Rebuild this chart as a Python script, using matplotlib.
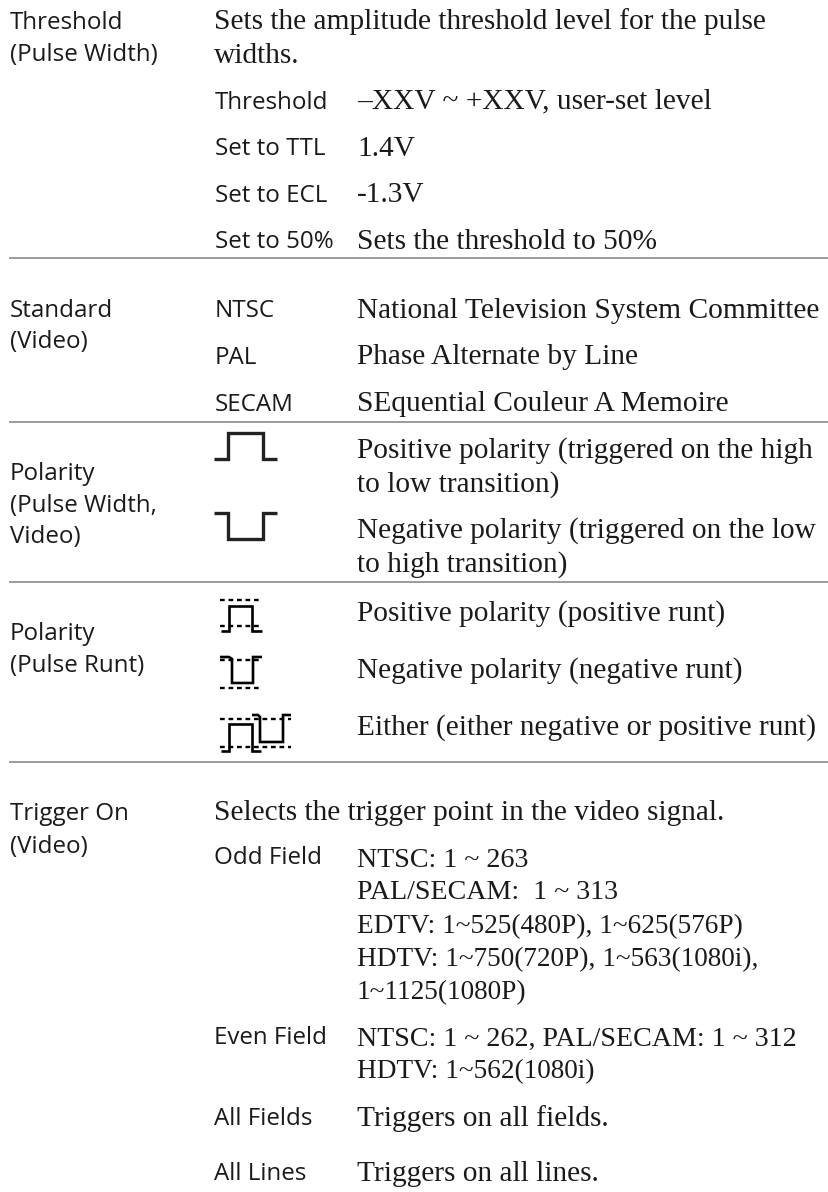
import matplotlib
matplotlib.use("Agg")
import matplotlib.pyplot as plt

W, H = 829, 1192
SANS = "Open Sans"
SERIF = "Liberation Serif"
INK = "#1a1a1a"
RULE = "#808080"

# x, baseline y, text
left_labels = [
    (10, 29, "Threshold"), (10, 61, "(Pulse Width)"),
    (10, 317, "Standard"), (10, 348, "(Video)"),
    (10, 480, "Polarity"), (10, 512, "(Pulse Width,"), (10, 543, "Video)"),
    (10, 640, "Polarity"), (10, 672, "(Pulse Runt)"),
    (10, 820, "Trigger On"), (10, 853, "(Video)"),
]

mid_labels = [
    (215, 109, "Threshold"), (215, 155, "Set to TTL"), (215, 202, "Set to ECL"), (215, 248, "Set to 50%"),
    (215, 317, "NTSC"), (215, 364, "PAL"), (215, 411, "SECAM"),
    (214, 864, "Odd Field"), (214, 1044, "Even Field"), (214, 1125, "All Fields"), (214, 1180, "All Lines"),
]

prose_lines = [
    (214, 29, "Sets the amplitude threshold level for the pulse"),
    (214, 63, "widths."),
    (357, 108, "\u2013XXV ~ +XXV, user-set level"),
    (357, 156, "1.4V"), (357, 202, "-1.3V"),
    (357, 249, "Sets the threshold to 50%"),
    (357, 318, "National Television System Committee"),
    (357, 364, "Phase Alternate by Line"),
    (357, 411, "SEquential Couleur A Memoire"),
    (357, 458, "Positive polarity (triggered on the high"),
    (357, 492, "to low transition)"),
    (357, 538, "Negative polarity (triggered on the low"),
    (357, 572, "to high transition)"),
    (357, 621, "Positive polarity (positive runt)"),
    (357, 678, "Negative polarity (negative runt)"),
    (357, 735, "Either (either negative or positive runt)"),
    (214, 820, "Selects the trigger point in the video signal."),
    (357, 1126, "Triggers on all fields."),
    (357, 1181, "Triggers on all lines."),
]

number_lines = [
    (357, 867, "NTSC: 1 ~ 263"),
    (357, 899, "PAL/SECAM:  1 ~ 313"),
    (357, 1046, "NTSC: 1 ~ 262, PAL/SECAM: 1 ~ 312"),
]

range_lines = [
    (357, 933, "EDTV: 1~525(480P), 1~625(576P)"),
    (357, 966, "HDTV: 1~750(720P), 1~563(1080i),"),
    (357, 999, "1~1125(1080P)"),
    (357, 1078, "HDTV: 1~562(1080i)"),
]

rule_y = [258, 422, 582, 762]

# icon outlines in page pixels
pulse_up = ([214, 228, 228, 263, 263, 277], [459, 459, 433, 433, 459, 459])
pulse_down = ([214, 228, 228, 263, 263, 277], [513, 513, 539, 539, 513, 513])
runt_up = ([221, 229, 229, 252, 252, 262], [631, 631, 606, 606, 631, 631])
runt_down = ([220, 229, 232, 232, 253, 253, 262], [657, 657, 659, 683, 683, 657, 657])
either_a = ([221, 229, 229, 252, 252, 261], [751, 751, 724, 724, 751, 751])
either_b = ([252, 258, 260, 260, 283, 283, 291], [715, 715, 717, 742, 742, 715, 715])
dash_rows = [
    (220, 262, 600), (220, 262, 626),
    (220, 262, 660), (220, 262, 688),
    (220, 291, 719), (220, 291, 747),
]

fig = plt.figure(figsize=(W / 100, H / 100), dpi=100)
ax = fig.add_axes([0, 0, 1, 1])
ax.set_xlim(0, W)
ax.set_ylim(H, 0)
ax.axis("off")

for x, y, s in left_labels + mid_labels:
    ax.text(x, y, s, family=SANS, fontsize=17.4, color=INK, va="baseline", ha="left")
for x, y, s in prose_lines:
    ax.text(x, y, s, family=SERIF, fontsize=21.2, color=INK, va="baseline", ha="left")
for x, y, s in number_lines:
    ax.text(x, y, s, family=SERIF, fontsize=20.2, color=INK, va="baseline", ha="left")
for x, y, s in range_lines:
    ax.text(x, y, s, family=SERIF, fontsize=19.6, color=INK, va="baseline", ha="left")

for y in rule_y:
    ax.plot([9, W], [y, y], color=RULE, lw=1.1, solid_capstyle="butt")

for xs, ys in (pulse_up, pulse_down):
    ax.plot(xs, ys, color="#222222", lw=2.4, solid_joinstyle="miter", solid_capstyle="butt")
for xs, ys in (runt_up, runt_down, either_a, either_b):
    ax.plot(xs, ys, color="black", lw=1.9, solid_joinstyle="miter", solid_capstyle="butt")
for x0, x1, y in dash_rows:
    ax.plot([x0, x1], [y, y], color="black", lw=1.7, dashes=(2.0, 1.6))

fig.savefig("out.png", dpi=100)
plt.close(fig)
